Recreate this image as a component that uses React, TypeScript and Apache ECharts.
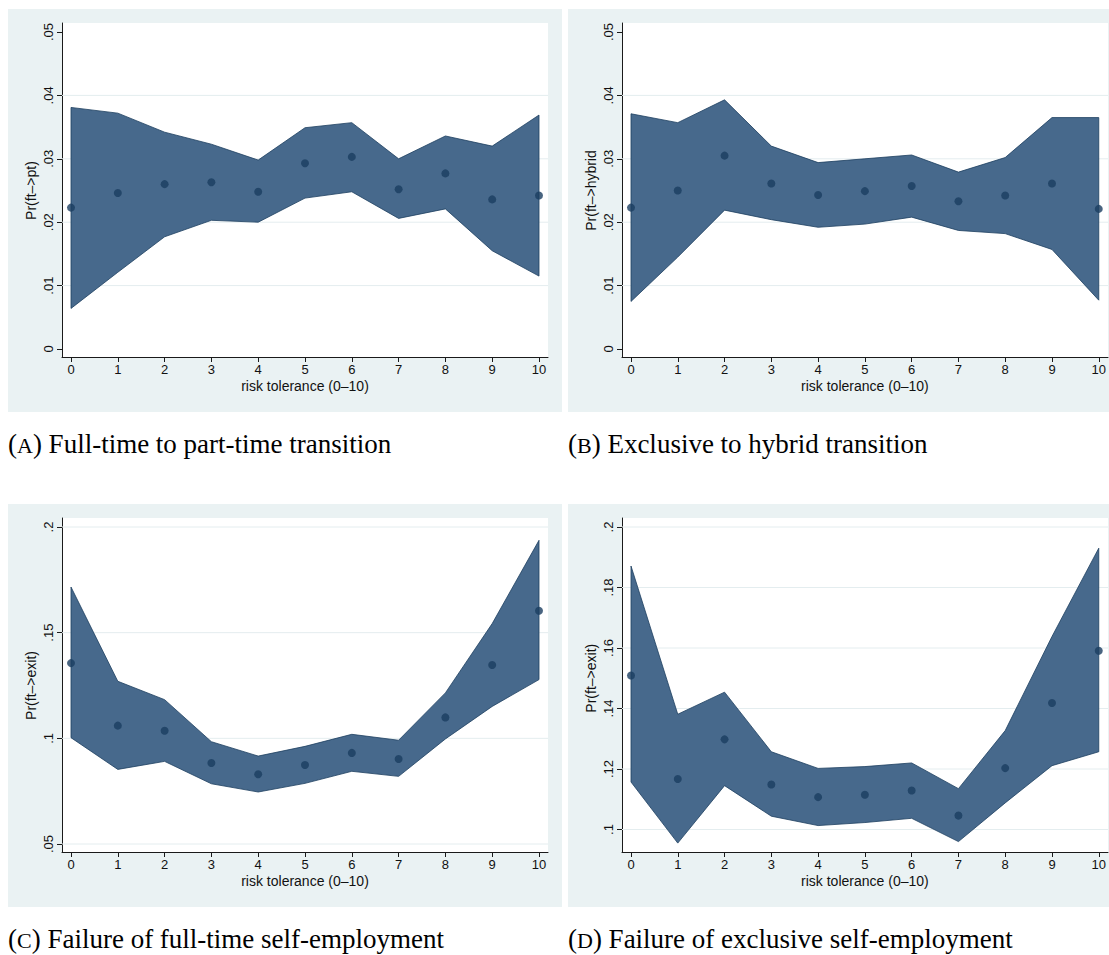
import React, { useEffect, useRef } from 'react';
import * as echarts from 'echarts';

// x values: risk tolerance 0..10
const riskTolerance = [0, 1, 2, 3, 4, 5, 6, 7, 8, 9, 10];

// (A) full-time -> part-time
const ptMean = [0.0223, 0.0246, 0.026, 0.0263, 0.0248, 0.0293, 0.0303, 0.0252, 0.0277, 0.0236, 0.0242];
const ptUpper = [0.0381, 0.0372, 0.0342, 0.0323, 0.0298, 0.0349, 0.0357, 0.03, 0.0336, 0.032, 0.0369];
const ptLower = [0.0064, 0.0121, 0.0177, 0.0203, 0.02, 0.0238, 0.0248, 0.0206, 0.0221, 0.0155, 0.0115];

// (B) exclusive -> hybrid
const hybridMean = [0.0223, 0.025, 0.0305, 0.0261, 0.0243, 0.0249, 0.0257, 0.0233, 0.0242, 0.0261, 0.0221];
const hybridUpper = [0.0371, 0.0357, 0.0393, 0.032, 0.0294, 0.03, 0.0306, 0.0279, 0.0302, 0.0365, 0.0365];
const hybridLower = [0.0075, 0.0145, 0.0219, 0.0204, 0.0192, 0.0197, 0.0208, 0.0187, 0.0182, 0.0157, 0.0077];

// (C) failure of full-time self-employment
const exitFtMean = [0.1356, 0.106, 0.1036, 0.0883, 0.083, 0.0874, 0.0931, 0.0902, 0.1099, 0.1347, 0.1604];
const exitFtUpper = [0.1716, 0.127, 0.1183, 0.0984, 0.0916, 0.0962, 0.1019, 0.0991, 0.1215, 0.1543, 0.1937];
const exitFtLower = [0.1003, 0.0853, 0.0891, 0.0785, 0.0746, 0.0787, 0.0844, 0.082, 0.0997, 0.1151, 0.1278];

// (D) failure of exclusive self-employment
const exitExMean = [0.1509, 0.1167, 0.1298, 0.1149, 0.1107, 0.1115, 0.1129, 0.1046, 0.1203, 0.1418, 0.1591];
const exitExUpper = [0.1871, 0.1381, 0.1454, 0.1257, 0.1202, 0.1208, 0.122, 0.1135, 0.1327, 0.1638, 0.193];
const exitExLower = [0.1157, 0.0955, 0.1145, 0.1044, 0.1013, 0.1023, 0.1037, 0.096, 0.1088, 0.1211, 0.1257];

// gridline positions (y values)
const gridAB = [0.01, 0.02, 0.03, 0.04];
const gridC = [0.05, 0.1, 0.15, 0.2];
const gridD = [0.1, 0.12, 0.14, 0.16, 0.18, 0.2];

const xTitle = 'risk tolerance (0–10)';

const panels = [
  { yName: 'Pr(ft–>pt)', mean: ptMean, upper: ptUpper, lower: ptLower, yMin: 0, yMax: 0.05, yStep: 0.01, grid: gridAB, letter: 'A', caption: 'Full-time to part-time transition', dx: 0, dy: 0, dataH: 317 },
  { yName: 'Pr(ft–>hybrid', mean: hybridMean, upper: hybridUpper, lower: hybridLower, yMin: 0, yMax: 0.05, yStep: 0.01, grid: gridAB, letter: 'B', caption: 'Exclusive to hybrid transition', dx: 560, dy: 0, dataH: 317 },
  { yName: 'Pr(ft–>exit)', mean: exitFtMean, upper: exitFtUpper, lower: exitFtLower, yMin: 0.05, yMax: 0.2, yStep: 0.05, grid: gridC, letter: 'C', caption: 'Failure of full-time self-employment', dx: 0, dy: 495, dataH: 317 },
  { yName: 'Pr(ft–>exit)', mean: exitExMean, upper: exitExUpper, lower: exitExLower, yMin: 0.1, yMax: 0.2, yStep: 0.02, grid: gridD, letter: 'D', caption: 'Failure of exclusive self-employment', dx: 560, dy: 495, dataH: 302.5 },
];

const SANS = '"Liberation Sans", Arial, Helvetica, sans-serif';
const SERIF = '"Liberation Serif", "Times New Roman", serif';
const PANEL_BG = '#eaf2f3';
const GRID_LINE = '#e4edef';
const BAND_FILL = '#47698c';
const BAND_STROKE = '#1d3f60';
const POINT = '#1a3d60';
const AXIS = '#1a1a1a';

const fmt = (v: number) => {
  if (Math.abs(v) < 1e-9) return '0';
  const s = String(+v.toFixed(4));
  return s.replace(/^0\./, '.');
};

function buildOption() {
  const grids: any[] = [];
  const xAxes: any[] = [];
  const yAxes: any[] = [];
  const series: any[] = [];
  const graphics: any[] = [];

  panels.forEach((p) => {
    const pLeft = 62 + p.dx, pTop = 23 + p.dy, pW = 486, pH = 334;
    const dLeft = 71 + p.dx, dTop = 32 + p.dy, dW = 468, dH = p.dataH;
    const xOff = pTop + pH - (dTop + dH);
    const yOff = dLeft - pLeft;
    const ppu = dH / (p.yMax - p.yMin);
    const pyMin = p.yMin - xOff / ppu;
    const pyMax = p.yMax + (dTop - pTop) / ppu;
    const xppu = dW / 10;
    const pxMin = 0 - (dLeft - pLeft) / xppu;
    const pxMax = 10 + (pLeft + pW - dLeft - dW) / xppu;

    // panel background
    graphics.push({
      type: 'rect', z: -10, silent: true,
      shape: { x: 8 + p.dx, y: 9 + p.dy, width: 554, height: 403 },
      style: { fill: PANEL_BG },
    });
    // caption
    graphics.push({
      type: 'text', x: 8 + p.dx, y: 444 + p.dy, silent: true,
      style: {
        text: `{n|(}{s|${p.letter}}{n|) ${p.caption}}`,
        verticalAlign: 'middle',
        align: 'left',
        rich: {
          n: { fontFamily: SERIF, fontSize: 27, fill: '#000', lineHeight: 27, verticalAlign: 'bottom' },
          s: { fontFamily: SERIF, fontSize: 22, fill: '#000', lineHeight: 27, verticalAlign: 'bottom', padding: [0, 0, 1, 0] },
        },
      },
    });

    const gP = grids.length;
    grids.push({ left: pLeft, top: pTop, width: pW, height: pH, show: true, backgroundColor: '#ffffff', borderWidth: 0 });
    const gD = grids.length;
    grids.push({ left: dLeft, top: dTop, width: dW, height: dH, show: false });

    const xP = xAxes.length;
    xAxes.push({
      gridIndex: gP, type: 'value', min: pxMin, max: pxMax,
      axisLine: { show: true, onZero: false, lineStyle: { color: AXIS, width: 1 } },
      axisTick: { show: false }, axisLabel: { show: false }, splitLine: { show: false },
    });
    const yP = yAxes.length;
    yAxes.push({
      gridIndex: gP, type: 'value', min: pyMin, max: pyMax,
      axisLine: { show: true, onZero: false, lineStyle: { color: AXIS, width: 1 } },
      axisTick: { show: false }, axisLabel: { show: false }, splitLine: { show: false },
    });
    const xD = xAxes.length;
    xAxes.push({
      gridIndex: gD, type: 'value', min: 0, max: 10, interval: 1, offset: xOff,
      axisLine: { show: false, onZero: false },
      axisTick: { show: true, length: 5, lineStyle: { color: AXIS, width: 1 } },
      axisLabel: { show: true, fontFamily: SANS, fontSize: 13, color: '#111', margin: 6 },
      splitLine: { show: false },
      name: xTitle, nameLocation: 'middle', nameGap: 22,
      nameTextStyle: { fontFamily: SANS, fontSize: 14, color: '#111' },
    });
    const yD = yAxes.length;
    yAxes.push({
      gridIndex: gD, type: 'value', min: p.yMin, max: p.yMax, interval: p.yStep, offset: yOff,
      axisLine: { show: false, onZero: false },
      axisTick: { show: true, length: 5, lineStyle: { color: AXIS, width: 1 } },
      axisLabel: { show: true, rotate: 90, fontFamily: SANS, fontSize: 13, color: '#111', margin: 7, formatter: fmt },
      splitLine: { show: false },
      name: p.yName, nameLocation: 'middle', nameGap: 24, nameRotate: 90,
      nameTextStyle: { fontFamily: SANS, fontSize: 14, color: '#111' },
    });

    // gridlines across the whole plot region
    p.grid.forEach((v) => {
      series.push({
        type: 'line', xAxisIndex: xP, yAxisIndex: yP, silent: true, z: 1,
        data: [[pxMin, v], [pxMax, v]], symbol: 'none',
        lineStyle: { color: GRID_LINE, width: 1 },
      });
    });

    // confidence band (range area)
    const upper = p.upper, lower = p.lower;
    series.push({
      type: 'custom', xAxisIndex: xD, yAxisIndex: yD, silent: true, clip: false, z: 2,
      data: riskTolerance.map((x, k) => [x, lower[k], upper[k]]),
      renderItem: (params: any, api: any) => {
        if (params.dataIndex !== 0) return null;
        const pts: number[][] = [];
        riskTolerance.forEach((x, k) => pts.push(api.coord([x, upper[k]])));
        for (let k = riskTolerance.length - 1; k >= 0; k--) pts.push(api.coord([riskTolerance[k], lower[k]]));
        return {
          type: 'polygon',
          shape: { points: pts },
          style: { fill: BAND_FILL, stroke: BAND_STROKE, lineWidth: 0.8 },
        };
      },
    });

    // point estimates
    series.push({
      type: 'scatter', xAxisIndex: xD, yAxisIndex: yD, silent: true, clip: false, z: 3,
      data: riskTolerance.map((x, k) => [x, p.mean[k]]),
      symbol: 'circle', symbolSize: 8,
      itemStyle: { color: POINT },
    });
  });

  return {
    animation: false,
    backgroundColor: '#ffffff',
    grid: grids,
    xAxis: xAxes,
    yAxis: yAxes,
    series,
    graphic: graphics,
  };
}

export default function App() {
  const ref = useRef<HTMLDivElement>(null);
  useEffect(() => {
    if (!ref.current) return;
    const chart = echarts.init(ref.current, null, { renderer: 'svg' });
    chart.setOption(buildOption() as any);
    return () => chart.dispose();
  }, []);
  return (
    <div
      ref={ref}
      style={{ position: 'absolute', left: 0, top: 0, width: 1109, height: 955, background: '#fff' }}
    />
  );
}
